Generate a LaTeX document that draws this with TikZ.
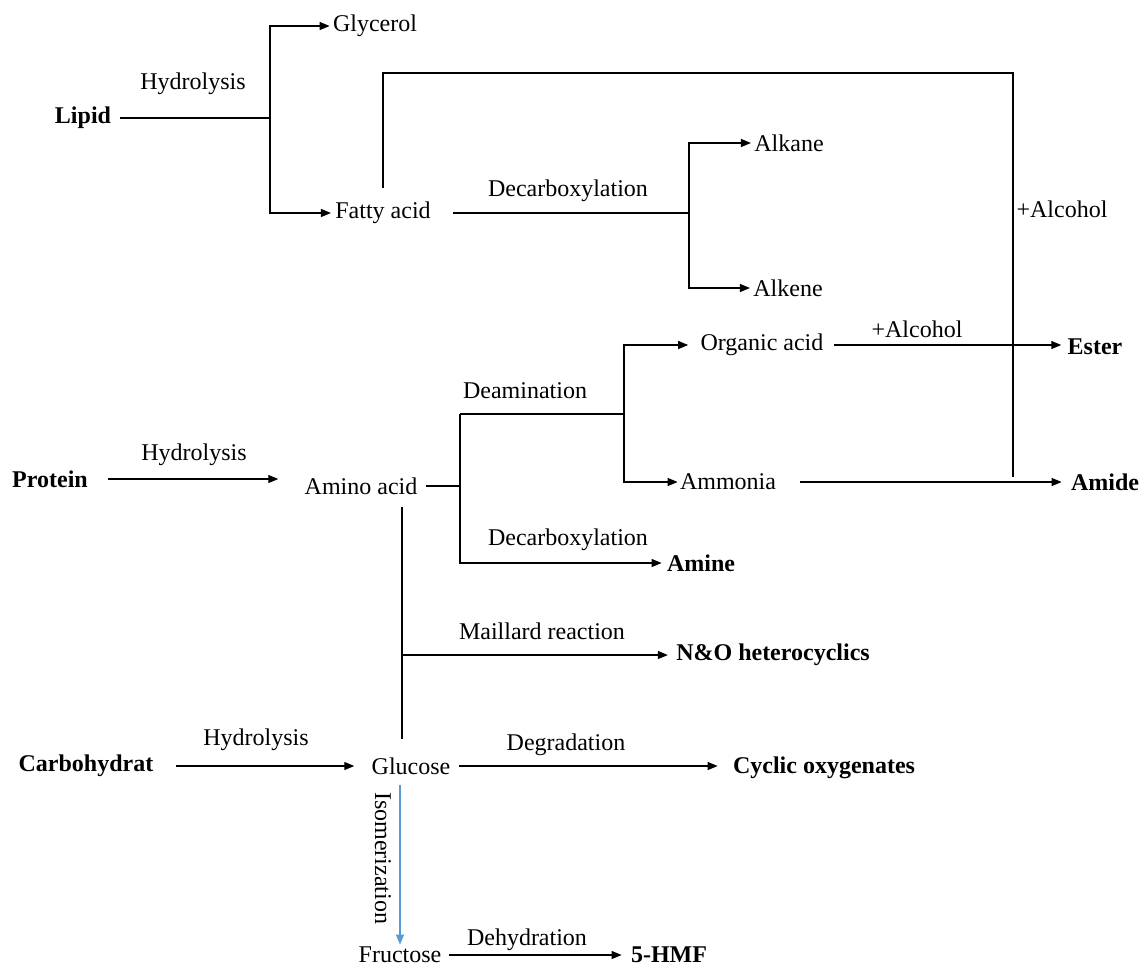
\documentclass[tikz,border=0pt]{standalone}
\usepackage{fontspec}
\setmainfont{Liberation Serif}
\usetikzlibrary{arrows.meta}
\definecolor{isoblue}{HTML}{5B9BD5}
\begin{document}
\begin{tikzpicture}[
  x=0.5pt, y=-0.5pt,
  chem/.style={inner sep=0pt, font=\fontsize{12}{14}\selectfont},
  feed/.style={inner sep=0pt, font=\fontsize{12}{14}\selectfont\bfseries},
  rxn/.style={inner sep=0pt, font=\fontsize{12}{14}\selectfont},
  link/.style={line width=0.6pt, black},
  arrow/.style={link, -{Triangle[length=5pt,width=4pt]}}
]
\useasboundingbox (0,0) rectangle (1142,971);
\node[feed] (lipid) at (83,118) {Lipid};
\node[chem] (glycerol) at (375,26) {Glycerol};
\node[chem] (fatty) at (383,213) {Fatty acid};
\node[chem] (alkane) at (789,143) {Alkane};
\node[chem] (alkene) at (788,288) {Alkene};
\node[chem] (organic) at (762,345) {Organic acid};
\node[chem] (ammonia) at (728,482) {Ammonia};
\node[feed] (ester) at (1095,347) {Ester};
\node[feed] (amide) at (1105,482) {Amide};
\node[feed] (protein) at (50,479) {Protein};
\node[chem] (amino) at (361,486) {Amino acid};
\node[feed] (amine) at (701,563) {Amine};
\node[feed] (nohet) at (773,655) {N\&O heterocyclics};
\node[feed] (carbo) at (86,766) {Carbohydrat};
\node[chem] (glucose) at (411,766) {Glucose};
\node[feed] (cyclic) at (824,768) {Cyclic oxygenates};
\node[chem] (fructose) at (400,955) {Fructose};
\node[feed] (hmf) at (669,955) {5-HMF};

\node[rxn] (hydlipid) at (193,84) {Hydrolysis};
\node[rxn] (hydprot) at (194,455) {Hydrolysis};
\node[rxn] (hydcarb) at (256,740) {Hydrolysis};
\node[rxn] (decfat) at (568,191) {Decarboxylation};
\node[rxn] (decamino) at (568,540) {Decarboxylation};
\node[rxn] (deam) at (525,391) {Deamination};
\node[rxn] (alcfat) at (1062,209) {+Alcohol};
\node[rxn] (alcorg) at (917,329) {+Alcohol};
\node[rxn] (maillard) at (542,631) {Maillard reaction};
\node[rxn] (degrad) at (566,745) {Degradation};
\node[rxn, rotate=-90] (isom) at (383,858) {Isomerization};
\node[rxn] (dehyd) at (527,940) {Dehydration};

\coordinate (jlipid) at (270,118);
\coordinate (jfatty) at (689,213);
\coordinate (jtop) at (1013,73);
\coordinate (jend) at (1013,477);
\coordinate (jamino) at (460,486);
\coordinate (jdeam) at (460,414);
\coordinate (jsplit) at (624,414);
\coordinate (jmail) at (402,655);

\draw[link, shorten <=4.5pt] (lipid.east) -- (jlipid);
\draw[arrow, shorten >=1.5pt] (jlipid) |- (glycerol.west);
\draw[arrow, shorten >=2pt] (jlipid) |- (fatty.west);
\draw[link, shorten <=11pt] (fatty.east) -- (jfatty);
\draw[arrow, shorten >=1.5pt] (jfatty) |- (alkane.west);
\draw[arrow, shorten >=1.5pt] (jfatty) |- (alkene.west);
\draw[link, shorten <=7pt] (fatty.north) |- (jtop) -- (jend);

\draw[arrow, shorten <=10pt, shorten >=13pt] (protein.east) -- (protein.east -| amino.west);
\draw[link, shorten <=4pt] (amino.east) -- (jamino);
\draw[link] (jdeam) -- (jsplit);
\draw[arrow, shorten >=2.5pt] (jdeam) |- (amine.west);
\draw[arrow, shorten >=6pt] (jsplit) |- (organic.west);
\draw[arrow, shorten >=1pt] (jsplit) |- (ammonia.west);
\draw[arrow, shorten <=5pt, shorten >=3pt] (organic.east) -- (organic.east -| ester.west);
\draw[arrow, shorten <=12pt, shorten >=4.5pt] (ammonia.east) -- (ammonia.east -| amide.west);
\draw[link, shorten <=6pt, shorten >=9pt] (jmail |- amino.south) -- (jmail |- glucose.north);
\draw[arrow, shorten >=4pt] (jmail) -- (nohet.west);

\draw[arrow, shorten <=11pt, shorten >=8.5pt] (carbo.east) -- (glucose.west);
\draw[arrow, shorten <=4pt, shorten >=7.5pt] (glucose.east) -- (glucose.east -| cyclic.west);
\draw[arrow, isoblue, shorten <=5pt, shorten >=1pt] (fructose.north |- glucose.south) -- (fructose.north);
\draw[arrow, shorten <=3.5pt, shorten >=4.5pt] (fructose.east) -- (hmf.west);
\end{tikzpicture}
\end{document}
